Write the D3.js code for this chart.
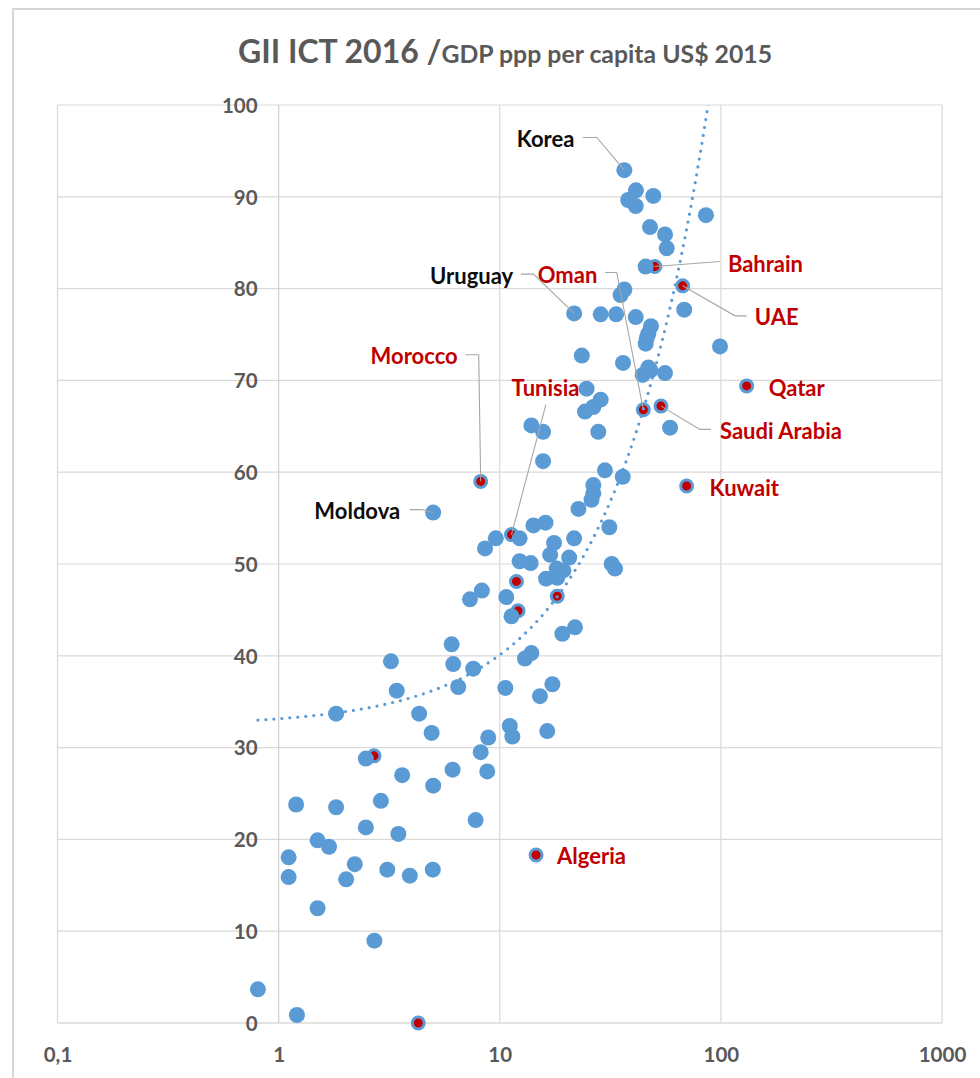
<!DOCTYPE html>
<html>
<head>
<meta charset="utf-8">
<script src="https://cdn.jsdelivr.net/npm/d3@7"></script>
<style>
  html, body { margin: 0; padding: 0; background: #fff; }
  svg { display: block; font-family: Lato, "Open Sans", "Liberation Sans", sans-serif; }
</style>
</head>
<body>
<svg id="chart" width="980" height="1078"></svg>
<script>
// GDP ppp per capita (thousand US$, 2015) for every country in the index
const gdp = [
  36.6, 41.3, 49.5, 38.1, 41.2, 85.6, 47.8, 55.9, 56.9, 45.7,
  36.6, 35.2, 68.3, 21.7, 28.6, 33.6, 41.2, 48.3, 47.0, 46.2,
  45.7, 99.1, 23.5, 36.1, 47.0, 48.1, 44.3, 55.9, 24.7, 28.6,
  26.5, 24.3, 27.9, 13.9, 15.7, 58.9, 15.7, 29.9, 36.0, 26.5,
  26.5, 26.0, 22.7, 5.0, 31.3, 14.2, 16.1, 12.3, 9.6, 8.58,
  17.6, 21.7, 16.9, 20.6, 12.3, 13.8, 18.1, 19.4, 16.2, 18.2,
  8.3, 7.33, 10.7, 11.3, 21.9, 19.2, 13.9, 13.0, 32.1, 33.2,
  17.3, 15.2, 16.4, 6.06, 3.22, 6.16, 7.59, 3.42, 6.49, 10.6,
  1.82, 4.32, 4.92, 8.87, 11.1, 11.4, 2.48, 8.2, 3.62, 6.12,
  8.78, 5.0, 2.90, 1.20, 1.82, 2.48, 3.48, 7.78, 1.50, 1.69,
  1.11, 2.21, 3.10, 4.98, 1.11, 2.02, 3.92, 1.50, 2.71, 0.806,
  1.21
];
// GII 2016 ICT score, same order as gdp
const ict = [
  92.9, 90.7, 90.1, 89.65, 89.0, 88.0, 86.7, 85.9, 84.4, 82.4,
  79.9, 79.3, 77.7, 77.3, 77.2, 77.2, 76.9, 75.9, 75.1, 74.6,
  74.0, 73.7, 72.7, 71.9, 71.4, 71.1, 70.6, 70.8, 69.1, 67.9,
  67.1, 66.6, 64.4, 65.1, 64.4, 64.85, 61.2, 60.2, 59.5, 58.6,
  57.7, 57.0, 56.0, 55.6, 54.0, 54.2, 54.5, 52.8, 52.8, 51.7,
  52.3, 52.8, 51.0, 50.7, 50.3, 50.1, 49.5, 49.3, 48.4, 48.5,
  47.1, 46.15, 46.4, 44.3, 43.1, 42.4, 40.3, 39.7, 50.0, 49.5,
  36.9, 35.6, 31.8, 41.25, 39.4, 39.1, 38.6, 36.2, 36.6, 36.5,
  33.7, 33.7, 31.6, 31.1, 32.35, 31.2, 28.8, 29.5, 27.0, 27.6,
  27.4, 25.85, 24.2, 23.8, 23.5, 21.3, 20.6, 22.1, 19.9, 19.2,
  18.05, 17.3, 16.7, 16.7, 15.9, 15.65, 16.05, 12.5, 8.97, 3.67,
  0.87
];
// Arab countries, highlighted in red
const arabNames = ["Bahrain", "UAE", "Qatar", "Oman", "Saudi Arabia", "Kuwait",
                   "Morocco", "Tunisia", "Algeria", "", "", "", "", ""];
const arabGdp = [50.3, 67.2, 130.8, 44.6, 53.6, 70.0, 8.2, 11.3, 14.6, 11.9, 18.2, 12.1, 2.70, 4.28];
const arabIct = [82.4, 80.3, 69.4, 66.8, 67.2, 58.5, 59.0, 53.2, 18.3, 48.1, 46.5, 44.9, 29.1, 0.0];

// Other countries named on the chart (index into gdp / ict)
const namedOthers = [["Korea", 0], ["Uruguay", 13], ["Moldova", 43]];

// Linear trendline ICT = a + b * GDP
const trendIntercept = 32.37;
const trendSlope = 0.773;

// Axis ticks
const xTicks = [0.1, 1, 10, 100, 1000];
const xTickLabels = ["0,1", "1", "10", "100", "1000"];
const yTicks = [0, 10, 20, 30, 40, 50, 60, 70, 80, 90, 100];

// ---- layout ----
const W = 980, H = 1078;
const plot = { left: 57.5, right: 942, top: 105, bottom: 1023 };
const BLUE = "#5b9bd5", RED = "#c00000", GREY_TXT = "#595959", GRID = "#d9d9d9";
const FONT = 'Lato, "Open Sans", "Liberation Sans", sans-serif';

// label placement relative to the point (pixels): text anchor point + leader path
const labelLayout = {
  "Korea":        { dx: -50,  dy: -31,  anchor: "end",    leader: [[-41.6, -32.7], [-27.6, -32.7]] },
  "Uruguay":      { dx: -61,  dy: -37,  anchor: "end",    leader: [[-53.3, -39.3], [-40.7, -39.3]] },
  "Moldova":      { dx: -33,  dy: -1.3, anchor: "end",    leader: [[-23.3, -3], [-11.6, -3]] },
  "Oman":         { dx: -46,  dy: -135, anchor: "end",    leader: [[-38.3, -137.3], [-26.6, -137.3]] },
  "Bahrain":      { dx: 73,   dy: -2.7, anchor: "start",  leader: [[65, -5]] },
  "UAE":          { dx: 72,   dy: 31,   anchor: "start",  leader: [[64, 30], [52.3, 30]] },
  "Morocco":      { dx: -23,  dy: -125, anchor: "end",    leader: [[-15, -126.7], [-2, -126.7]] },
  "Tunisia":      { dx: 34,   dy: -147, anchor: "middle", leader: [[34.4, -130]] },
  "Qatar":        { dx: 22,   dy: 2.3,  anchor: "start",  leader: null },
  "Saudi Arabia": { dx: 59,   dy: 25,   anchor: "start",  leader: [[50, 23.3], [39, 23.3]] },
  "Kuwait":       { dx: 23,   dy: 2.3,  anchor: "start",  leader: null },
  "Algeria":      { dx: 21,   dy: 1,    anchor: "start",  leader: null }
};

const svg = d3.select("#chart");

const x = d3.scaleLog().domain([0.1, 1000]).range([plot.left, plot.right]);
const y = d3.scaleLinear().domain([0, 100]).range([plot.bottom, plot.top]);

// chart frame
svg.append("path")
  .attr("d", `M13,${H} V9 H${W}`)
  .attr("fill", "none").attr("stroke", "#d6d6d6").attr("stroke-width", 2);

// title
const title = svg.append("text")
  .attr("x", 505).attr("y", 63).attr("text-anchor", "middle")
  .attr("fill", GREY_TXT).attr("font-weight", 700);
title.append("tspan").attr("font-size", 32).text("GII ICT 2016 /");
title.append("tspan").attr("font-size", 24.8).text("GDP ppp per capita US$ 2015");

// gridlines
const grid = svg.append("g");
grid.selectAll("line.h").data(yTicks).join("line")
  .attr("x1", plot.left).attr("x2", plot.right)
  .attr("y1", d => y(d)).attr("y2", d => y(d))
  .attr("stroke", d => d === 0 ? "#c8c8c8" : GRID).attr("stroke-width", 1.2);
grid.selectAll("line.v").data(xTicks).join("line")
  .attr("y1", plot.top).attr("y2", plot.bottom)
  .attr("x1", d => x(d)).attr("x2", d => x(d))
  .attr("stroke", d => d === 1 ? "#cfcfcf" : GRID).attr("stroke-width", 1.2);

// y axis labels sit just left of the x = 1 line
const yAxis = d3.axisLeft(y).tickValues(yTicks).tickSize(0).tickPadding(0).tickFormat(d3.format("d"));
const gy = svg.append("g").attr("transform", `translate(${x(1) - 21},0)`).call(yAxis)
  .attr("font-family", FONT).attr("font-size", 20.5);
gy.select(".domain").remove();
gy.selectAll("text").attr("font-weight", 700).attr("fill", GREY_TXT).attr("dy", "0.36em");

// x axis labels below the plot
const xAxis = d3.axisBottom(x).tickValues(xTicks).tickSize(0).tickPadding(0)
  .tickFormat((d, i) => xTickLabels[i]);
const gx = svg.append("g").attr("transform", `translate(0,${plot.bottom + 24})`).call(xAxis)
  .attr("font-family", FONT).attr("font-size", 20.5);
gx.select(".domain").remove();
gx.selectAll("text").attr("font-weight", 700).attr("fill", GREY_TXT).attr("dy", "0.71em");

// highlighted (Arab) markers go underneath the others
const arab = arabGdp.map((g, i) => ({ name: arabNames[i], g, v: arabIct[i] }));
svg.append("g").selectAll("circle").data(arab).join("circle")
  .attr("cx", d => x(d.g)).attr("cy", d => y(d.v)).attr("r", 6)
  .attr("fill", RED).attr("stroke", BLUE).attr("stroke-width", 3);

// all other countries
const pts = gdp.map((g, i) => ({ g, v: ict[i] }));
svg.append("g").selectAll("circle").data(pts).join("circle")
  .attr("cx", d => x(d.g)).attr("cy", d => y(d.v)).attr("r", 8)
  .attr("fill", BLUE);

// trendline, dotted, clipped to the plot area
svg.append("clipPath").attr("id", "plotClip").append("rect")
  .attr("x", plot.left).attr("y", plot.top)
  .attr("width", plot.right - plot.left).attr("height", plot.bottom - plot.top);
const gMin = d3.min(gdp.concat(arabGdp)), gMax = d3.max(gdp.concat(arabGdp));
const trendX = d3.range(0, 201).map(i => gMin * Math.pow(gMax / gMin, i / 200));
svg.append("path")
  .attr("clip-path", "url(#plotClip)")
  .attr("d", d3.line().x(d => x(d)).y(d => y(trendIntercept + trendSlope * d))(trendX))
  .attr("fill", "none").attr("stroke", BLUE).attr("stroke-width", 3.2)
  .attr("stroke-linecap", "round").attr("stroke-dasharray", "0 8");

// data labels with leader lines
const labelled = arab.filter(d => d.name).map(d => ({ ...d, color: RED }))
  .concat(namedOthers.map(([name, i]) => ({ name, g: gdp[i], v: ict[i], color: "#0d0d0d" })));

const lab = svg.append("g");
labelled.forEach(d => {
  const L = labelLayout[d.name];
  const px = x(d.g), py = y(d.v);
  if (L.leader) {
    const path = L.leader.map(([a, b]) => [px + a, py + b]).concat([[px, py]]);
    lab.append("path").attr("d", d3.line()(path))
      .attr("fill", "none").attr("stroke", "#a6a6a6").attr("stroke-width", 1.1);
  }
  lab.append("text")
    .attr("x", px + L.dx).attr("y", py + L.dy).attr("dy", "0.36em")
    .attr("text-anchor", L.anchor)
    .attr("font-size", 22).attr("font-weight", 700).attr("fill", d.color)
    .text(d.name);
});
</script>
</body>
</html>
